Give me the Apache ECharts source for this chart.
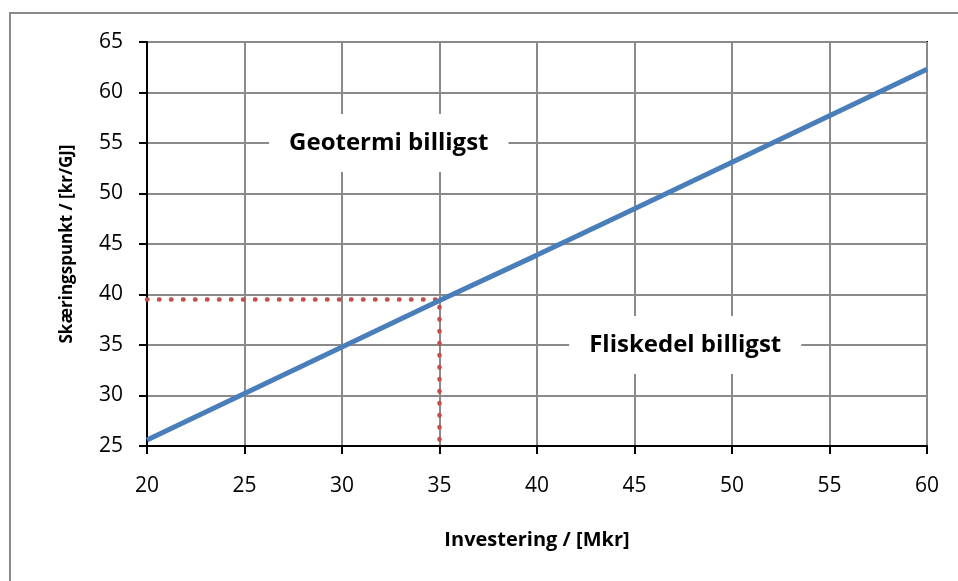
<!DOCTYPE html>
<html>
<head>
<meta charset="utf-8">
<script src="https://cdn.jsdelivr.net/npm/echarts@6/dist/echarts.min.js"></script>
<style>
  html, body { margin: 0; padding: 0; background: #fff; }
  #main { width: 958px; height: 581px; }
</style>
</head>
<body>
<div id="main"></div>
<script>
// investering (Mkr) vs skæringspunkt (kr/GJ)
const investering = [20, 25, 30, 35, 40, 45, 50, 55, 60];
const skaering = [25.6, 30.2, 34.8, 39.4, 43.9, 48.5, 53.1, 57.7, 62.3];

// dotted guide through the 35 Mkr point
const guideX = [20, 35, 35];
const guideY = [39.5, 39.5, 25];

// region labels [x, y, text]
const regionLabels = [
	[32.4, 55, 'Geotermi billigst'],
	[47.6, 35, 'Fliskedel billigst']
];

const FONT = '"Open Sans", sans-serif';

const chart = echarts.init(document.getElementById('main'));

const option = {
	backgroundColor: '#fff',
	animation: false,
	graphic: [
		{
			type: 'rect',
			shape: { x: 10, y: 13, width: 970, height: 600 },
			style: { fill: 'none', stroke: '#8a8a8a', lineWidth: 2 }
		}
	],
	grid: {
		left: 147,
		right: 31,
		top: 42,
		bottom: 135,
		show: true,
		borderColor: '#000',
		borderWidth: 2
	},
	xAxis: {
		type: 'value',
		min: 20,
		max: 60,
		interval: 5,
		name: 'Investering / [Mkr]',
		nameLocation: 'middle',
		nameGap: 84,
		nameTextStyle: { fontFamily: FONT, fontWeight: 'bold', fontSize: 20, color: '#000' },
		axisLine: { lineStyle: { color: '#000', width: 2 } },
		axisTick: { length: 8, lineStyle: { color: '#000', width: 2 } },
		axisLabel: { fontFamily: FONT, fontSize: 21, color: '#000', margin: 30 },
		splitLine: { lineStyle: { color: '#8a8a8a', width: 2 } }
	},
	yAxis: {
		type: 'value',
		min: 25,
		max: 65,
		interval: 5,
		name: 'Skæringspunkt / [kr/GJ]',
		nameLocation: 'middle',
		nameGap: 71,
		nameTextStyle: { fontFamily: FONT, fontWeight: 'bold', fontSize: 17, color: '#000' },
		axisLine: { show: true, lineStyle: { color: '#000', width: 2 } },
		axisTick: { show: true, length: 8, lineStyle: { color: '#000', width: 2 } },
		axisLabel: { fontFamily: FONT, fontSize: 21, color: '#000', margin: 24 },
		splitLine: { lineStyle: { color: '#8a8a8a', width: 2 } }
	},
	series: [
		{
			type: 'scatter',
			z: 3,
			symbolSize: 0,
			silent: true,
			itemStyle: { opacity: 1 },
			data: regionLabels.map(d => ({ value: [d[0], d[1]], name: d[2] })),
			label: {
				show: true,
				position: 'inside',
				formatter: p => p.name,
				fontFamily: FONT,
				fontWeight: 'bold',
				fontSize: 24,
				color: '#000',
				opacity: 1,
				backgroundColor: '#fff',
				padding: [17, 20]
			}
		},
		{
			type: 'line',
			z: 4,
			data: guideX.map((x, i) => [x, guideY[i]]),
			showSymbol: false,
			lineStyle: { color: '#c0504d', width: 4.5, type: [0.5, 11.5], cap: 'round' }
		},
		{
			type: 'line',
			z: 5,
			data: investering.map((x, i) => [x, skaering[i]]),
			showSymbol: false,
			lineStyle: { color: '#4a7ebb', width: 5 }
		}
	]
};

chart.setOption(option);
</script>
</body>
</html>
